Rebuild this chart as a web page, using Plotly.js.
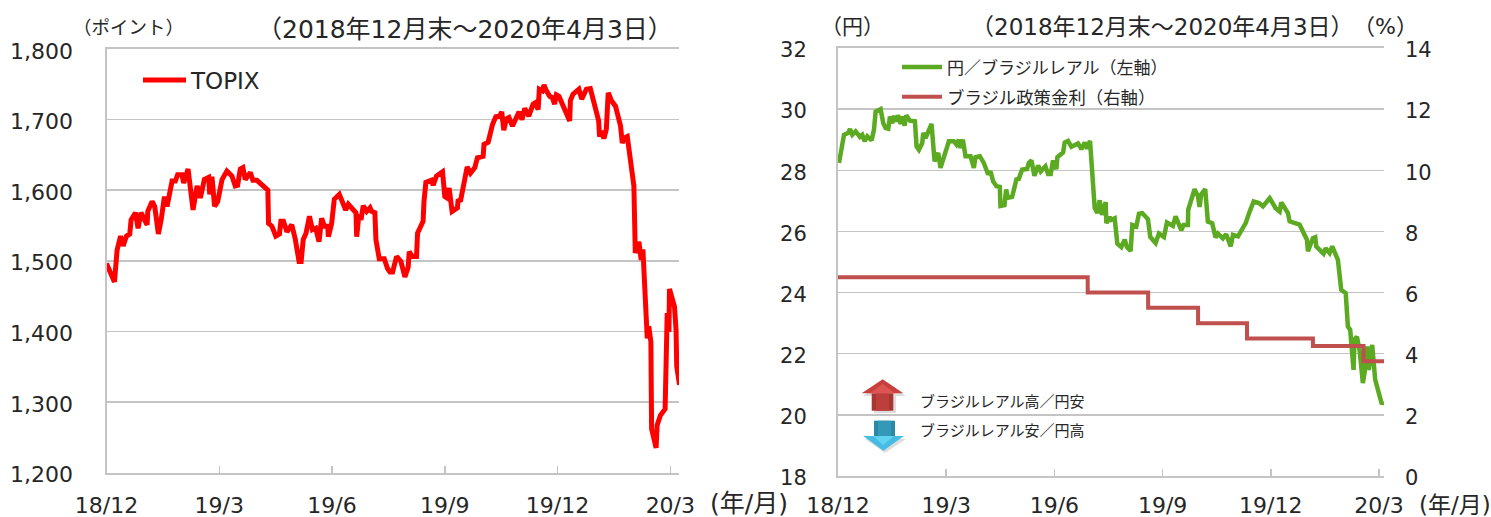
<!DOCTYPE html>
<html><head><meta charset="utf-8">
<script src="https://cdn.plot.ly/plotly-3.0.1.min.js"></script>
<style>html,body{margin:0;padding:0;background:#fff}#c{width:1491px;height:517px}</style>
</head><body><div id="c"></div>
<script>
// x = trading-day position from end-Dec 2018
const topixDay=[0,4.6,6.1,8.1,9.6,11.5,13.4,14.2,16.7,18.2,19.9,21.5,23.4,23.8,26.3,27.8,29.9,31.5,33.4,34.9,37.8,39.7,41,43.5,44.5,47,49.9,52.2,54.1,56.4,58.9,59.5,60.8,62.3,64.1,66.6,69.4,72.3,74.2,75.6,77.1,78.6,80,82.9,84.4,86.7,93,93.4,95.3,97.6,99.7,100.5,102,104,106.8,108.7,111,112.2,113.4,115,117,118.7,120.6,122.5,124,125.6,127.5,127.9,129.8,131.3,134.2,137.9,139.4,143.8,144.2,145.5,146.7,148,150,151.9,152.8,154.7,155.3,157.2,160.1,162,163.4,164.9,167.2,169.7,172,173.9,174.5,176.2,178.7,179.3,182.5,183,184.1,187.3,188.3,190.2,193.7,195,196.3,197.5,199.2,202.3,202.7,204,207.9,209.8,212.3,213.8,217.1,217.6,220,222.5,224.4,226.7,227.8,229,230.5,232,234,237.8,239.5,241.1,243.4,245.9,247.2,248.8,249.5,251.2,252.2,253.5,255.5,257,258.3,259.3,260.8,267,267.4,268.9,272.3,273.9,276.6,278.9,283.7,284.2,285.4,286.7,288.1,289.2,291,293.4,296.3,297.3,298.6,300.2,304,304.8,306.9,308.2,309.2,311.7,312.6,313.8,314.2,316.8,317.4,319.3,322,323.2,324.2,324.5,327.4,328.3,328.7,330.3];
const topixValue=[1496,1470,1515,1535,1521,1535,1538,1558,1568,1546,1568,1560,1551,1570,1584,1577,1538,1558,1591,1577,1613,1613,1622,1622,1610,1630,1572,1606,1589,1615,1618,1594,1619,1577,1584,1615,1627,1620,1606,1607,1630,1632,1615,1625,1614,1614,1600,1553,1549,1535,1538,1556,1556,1541,1551,1532,1499,1499,1530,1539,1563,1544,1546,1527,1560,1549,1549,1534,1553,1587,1594,1572,1580,1568,1534,1565,1558,1578,1570,1575,1570,1568,1530,1503,1503,1489,1484,1484,1506,1499,1477,1491,1513,1506,1506,1539,1556,1584,1611,1614,1607,1620,1626,1591,1589,1603,1570,1575,1587,1584,1633,1624,1632,1646,1648,1665,1668,1693,1704,1705,1711,1685,1701,1703,1691,1711,1700,1716,1705,1722,1724,1714,1743,1741,1749,1741,1733,1731,1722,1735,1733,1698,1727,1736,1743,1729,1743,1744,1698,1676,1684,1673,1686,1738,1727,1719,1691,1667,1674,1676,1606,1511,1527,1501,1516,1390,1407,1385,1262,1235,1267,1281,1290,1426,1399,1460,1435,1402,1350,1324];

const brlDay=[0.6,2,3.6,6,7.2,8.6,10.6,13.2,14.6,16,17.6,20.2,21.6,22.6,25.6,27.2,28.6,30.2,31.2,32.6,33.6,35,36,37.6,38.6,40,41,43.2,46.2,47.2,48.6,50.6,51.2,52.6,56.2,58,60.2,61.6,64.6,66.6,69.6,71.2,72.6,73.6,75,76.6,79.6,81.6,82.6,85.2,87.6,90.2,91.6,93.2,95.2,97.2,97.6,100,101,102,104.6,107.2,108.6,110.6,113.6,114.6,116.2,118,120.2,121.8,124.6,126.2,127.8,129.2,131.2,131.8,135.2,136.2,138.2,140.2,144.2,146.2,148.2,149.6,151.4,154.2,155.8,157.2,158.6,160.8,161.2,163.2,164.2,166.2,167.8,170.2,172.2,173.6,175.8,176.8,179.2,180.8,182.8,186.2,187.6,190.8,192.8,195.8,197.6,201.2,202.8,206.2,207.6,210.2,210.4,214.2,216.2,217.2,218.2,220.6,222.2,224.8,226.8,228.2,231.2,233.2,235.9,237.3,240.3,242.9,244.9,247.3,249.7,252.9,255.3,259.3,262.9,265.3,266.3,270.3,271.3,277.3,280.3,281.7,282.3,285.3,286.7,287.3,291.7,292.9,295.3,296.9,300.3,302.3,305,306.3,307.7,309.7,310.3,311.7,313.3,315.3,316.3,317.9,318.9,320.9,322.7,326.7,327.7];
const brlValue=[28.24,28.78,29.16,29.22,29.35,29.16,29.27,29.09,29.16,28.95,29.11,28.98,29.33,29.92,30,29.54,29.38,29.36,29.76,29.54,29.78,29.6,29.8,29.52,29.76,29.46,29.8,29.62,29.6,28.78,28.67,28.89,29.22,29.05,29.52,28.29,28.57,28.08,28.67,28.95,28.95,28.84,29,28.73,29,28.46,28.46,28.08,28.43,28.46,28.24,27.86,27.97,27.64,27.48,27.46,26.83,26.86,27.37,27.1,27.13,27.7,27.72,28.02,28.04,28.24,28.32,27.82,28.16,27.96,28.13,27.88,27.88,28.32,28.04,28.43,28.58,28.91,28.96,28.77,28.88,28.69,28.91,28.71,28.96,26.77,26.6,27.02,26.54,26.96,26.27,26.47,26.38,26.43,25.6,25.49,25.73,25.49,25.36,26.21,26.16,26.58,26.6,26.4,25.82,25.62,25.93,25.82,26.29,26.18,26.49,26.04,26.21,26.21,26.71,27.38,27.16,26.8,27.21,27.38,26.32,26.27,25.8,25.93,25.77,25.91,25.51,25.89,25.84,26.08,26.27,26.65,26.98,26.93,26.82,27.09,26.76,26.65,26.95,26.6,26.33,26.22,25.89,25.73,25.35,25.78,25.81,25.51,25.27,25.45,25.29,25.51,25.07,24.09,23.98,22.89,22.78,21.47,22.46,22.56,22.13,21.04,21.37,22.24,21.47,22.29,21.15,20.35,20.44];

const policyDay=[0,150,186.3,216.3,245.7,285.3,315.7,328];
const policyRate=[6.5,6,5.5,5,4.5,4.25,3.75,3.75];

const tickDays=[0,65,130,195,260,325];
const tickLabels=['18/12','19/3','19/6','19/9','19/12','20/3'];
const topixTicks=[1200,1300,1400,1500,1600,1700,1800];
const yenTicks=[18,20,22,24,26,28,30,32];
const rateTicks=[0,2,4,6,8,10,12,14];

const W=1491,H=517;
const px=x=>x/W, py=y=>1-y/H;
const GRAY='#C4C4C4',TXT='#262626';
const FONT='"DejaVu Sans","Noto Sans CJK JP",sans-serif';
const JP='"Noto Sans CJK JP",sans-serif';

function xa(dom,rng,anchor,standoff){return{domain:dom,range:rng,anchor:anchor,type:'linear',tickmode:'array',tickvals:tickDays,ticktext:tickLabels,
  ticks:'inside',ticklen:7,tickcolor:GRAY,tickwidth:1.5,showgrid:false,zeroline:false,showline:true,linecolor:GRAY,linewidth:2,mirror:true,
  tickfont:{size:22,color:TXT,family:FONT},ticklabelstandoff:standoff,tickangle:0};}
function ya(dom,rng,vals,anchor,size,standoff){return{domain:dom,range:rng,anchor:anchor,tickmode:'array',tickvals:vals,ticks:'',
  showgrid:true,gridcolor:GRAY,gridwidth:1.5,zeroline:false,showline:true,linecolor:GRAY,linewidth:2,
  tickfont:{size:size,color:TXT,family:FONT},ticklabelstandoff:standoff,ticklabelshift:2};}

const traces=[
 {x:topixDay,y:topixValue,name:'TOPIX',type:'scatter',mode:'lines',xaxis:'x',yaxis:'y',line:{color:'#FF0000',width:5,shape:'linear'},legend:'legend'},
 {x:brlDay,y:brlValue,name:'円／ブラジルレアル（左軸）',type:'scatter',mode:'lines',xaxis:'x2',yaxis:'y2',line:{color:'#5BAA22',width:4.5},legend:'legend2'},
 {x:policyDay,y:policyRate,name:'ブラジル政策金利（右軸）',type:'scatter',mode:'lines',xaxis:'x2',yaxis:'y3',line:{color:'#C0504D',width:4,shape:'hv'},legend:'legend3'}
];

const note=(t,x,y,size,anchor)=>({text:t,xref:'paper',yref:'paper',x:px(x),y:py(y),xanchor:anchor||'left',yanchor:'middle',showarrow:false,
  font:{size:size,color:TXT,family:FONT}});
const poly=(pts,fill)=>({type:'path',xref:'paper',yref:'paper',layer:'above',line:{width:0},fillcolor:fill,
  path:'M'+pts.map(p=>px(p[0])+','+py(p[1])).join('L')+'Z'});

const shapes=[
 // up arrow
 poly([[863,396],[884,381],[906,396],[896,396],[896,413],[874,413],[874,396]],'rgba(120,120,120,0.25)'),
 poly([[871.7,393.3],[893.3,393.3],[893.3,410.7],[871.7,410.7]],'#A93533'),
 poly([[876,393.3],[889,393.3],[889,410.7],[876,410.7]],'#BC3F3C'),
 poly([[861.7,393.3],[882.7,379.3],[903.3,393.3]],'#C93F3C'),
 poly([[870,393.3],[882.7,384],[895,393.3]],'#DC5552'),
 // down arrow
 poly([[865,439],[885,453],[906,439]],'rgba(120,120,120,0.25)'),
 poly([[874,420.7],[895,420.7],[895,436],[874,436]],'#2B89A8'),
 poly([[878,420.7],[891,420.7],[891,436],[878,436]],'#3498B8'),
 poly([[863.3,436],[904,436],[883.3,450.7]],'#46BCE3'),
 poly([[873,436],[894,436],[883.3,445]],'#62D2F2')
];

const legendBase={xref:'paper',yref:'paper',xanchor:'left',yanchor:'middle',bgcolor:'rgba(0,0,0,0)',borderwidth:0,itemclick:false,itemdoubleclick:false};
const layout={
 width:W,height:H,margin:{l:0,r:0,t:0,b:0,pad:0},paper_bgcolor:'#fff',plot_bgcolor:'#fff',showlegend:true,
 xaxis:xa([px(106.5),px(679)],[0,330],'y',12),
 yaxis:Object.assign(ya([py(472.5),py(49)],[1200,1800],topixTicks,'x',22,27),{tickformat:',d'}),
 xaxis2:xa([px(838),px(1384)],[0,328],'y2',9),
 yaxis2:ya([py(476),py(48)],[18,32],yenTicks,'x2',21,25),
 yaxis3:Object.assign(ya([py(476),py(48)],[0,14],rateTicks,'x2',21,20),{overlaying:'y2',side:'right',showgrid:false,showline:false}),
 legend:Object.assign({},legendBase,{x:px(138),y:py(80),itemwidth:43,font:{size:23,color:TXT,family:FONT}}),
 legend2:Object.assign({},legendBase,{x:px(897),y:py(67.5),itemwidth:40,font:{size:17,color:TXT,family:JP}}),
 legend3:Object.assign({},legendBase,{x:px(897),y:py(97),itemwidth:40,font:{size:17.4,color:TXT,family:JP}}),
 shapes:shapes,
 annotations:[
  note('（ポイント）',71,28,18.5),
  note('（2018年12月末～2020年4月3日）',255,30,25),
  note('(年/月)',708,503,25),
  note('（円）',819,27,21),
  note('（2018年12月末～2020年4月3日）',969,27,23),
  note('（%）',1351,27,22),
  note('(年/月)',1417,505,23),
  note('ブラジルレアル高／円安',918,401.7,15),
  note('ブラジルレアル安／円高',918,430.7,15)
 ]
};
Plotly.newPlot('c',traces,layout,{displayModeBar:false,staticPlot:true});
</script></body></html>
